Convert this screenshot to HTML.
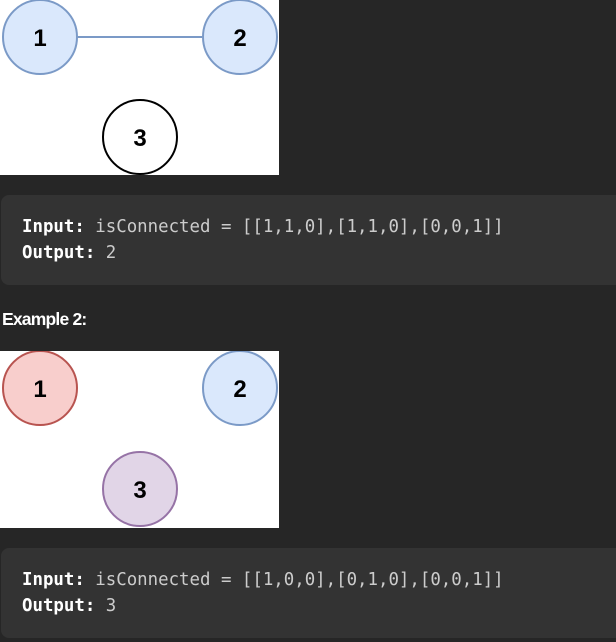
<!DOCTYPE html>
<html><head><style>
body{margin:0;background:#262626;width:616px;height:642px;overflow:hidden;position:relative;font-family:"Liberation Sans",sans-serif}
.img{position:absolute;left:0;width:279px;background:#fff}
.code{position:absolute;left:1px;width:625px;height:90px;background:#333;border-radius:8px;font-family:"DejaVu Sans Mono","Liberation Mono",monospace;font-size:17.4px;color:#ccc;line-height:26px}
.code div{position:absolute;left:21px;white-space:pre}
b{color:#fff}
.h{position:absolute;left:2px;top:309px;color:#fff;font-weight:bold;font-size:17.5px;letter-spacing:-0.8px}
</style></head><body>
<svg class="img" style="top:0;height:175px" viewBox="0 0 279 175">
<line x1="78" y1="37" x2="202" y2="37" stroke="#7b9ac7" stroke-width="2"/>
<circle cx="40" cy="37" r="37" fill="#dae8fc" stroke="#7b9ac7" stroke-width="2"/>
<circle cx="240" cy="37" r="37" fill="#dae8fc" stroke="#7b9ac7" stroke-width="2"/>
<circle cx="140" cy="137" r="37" fill="#fff" stroke="#000" stroke-width="2"/>
<g font-family="Liberation Sans" font-weight="bold" font-size="24" text-anchor="middle">
<text x="40" y="46">1</text><text x="240" y="46">2</text><text x="140" y="146">3</text></g>
</svg>
<div class="code" style="top:195px"><div style="top:19px"><b>Input:</b> isConnected = [[1,1,0],[1,1,0],[0,0,1]]</div><div style="top:45px"><b>Output:</b> 2</div></div>
<div class="h">Example 2:</div>
<svg class="img" style="top:351px;height:177px" viewBox="0 0 279 177">
<circle cx="40" cy="37" r="37" fill="#f8cecc" stroke="#b85450" stroke-width="2"/>
<circle cx="240" cy="37" r="37" fill="#dae8fc" stroke="#7b9ac7" stroke-width="2"/>
<circle cx="140" cy="138" r="37" fill="#e1d5e7" stroke="#9673a6" stroke-width="2"/>
<g font-family="Liberation Sans" font-weight="bold" font-size="24" text-anchor="middle">
<text x="40" y="46">1</text><text x="240" y="46">2</text><text x="140" y="147">3</text></g>
</svg>
<div class="code" style="top:548px"><div style="top:19px"><b>Input:</b> isConnected = [[1,0,0],[0,1,0],[0,0,1]]</div><div style="top:45px"><b>Output:</b> 3</div></div>
</body></html>
